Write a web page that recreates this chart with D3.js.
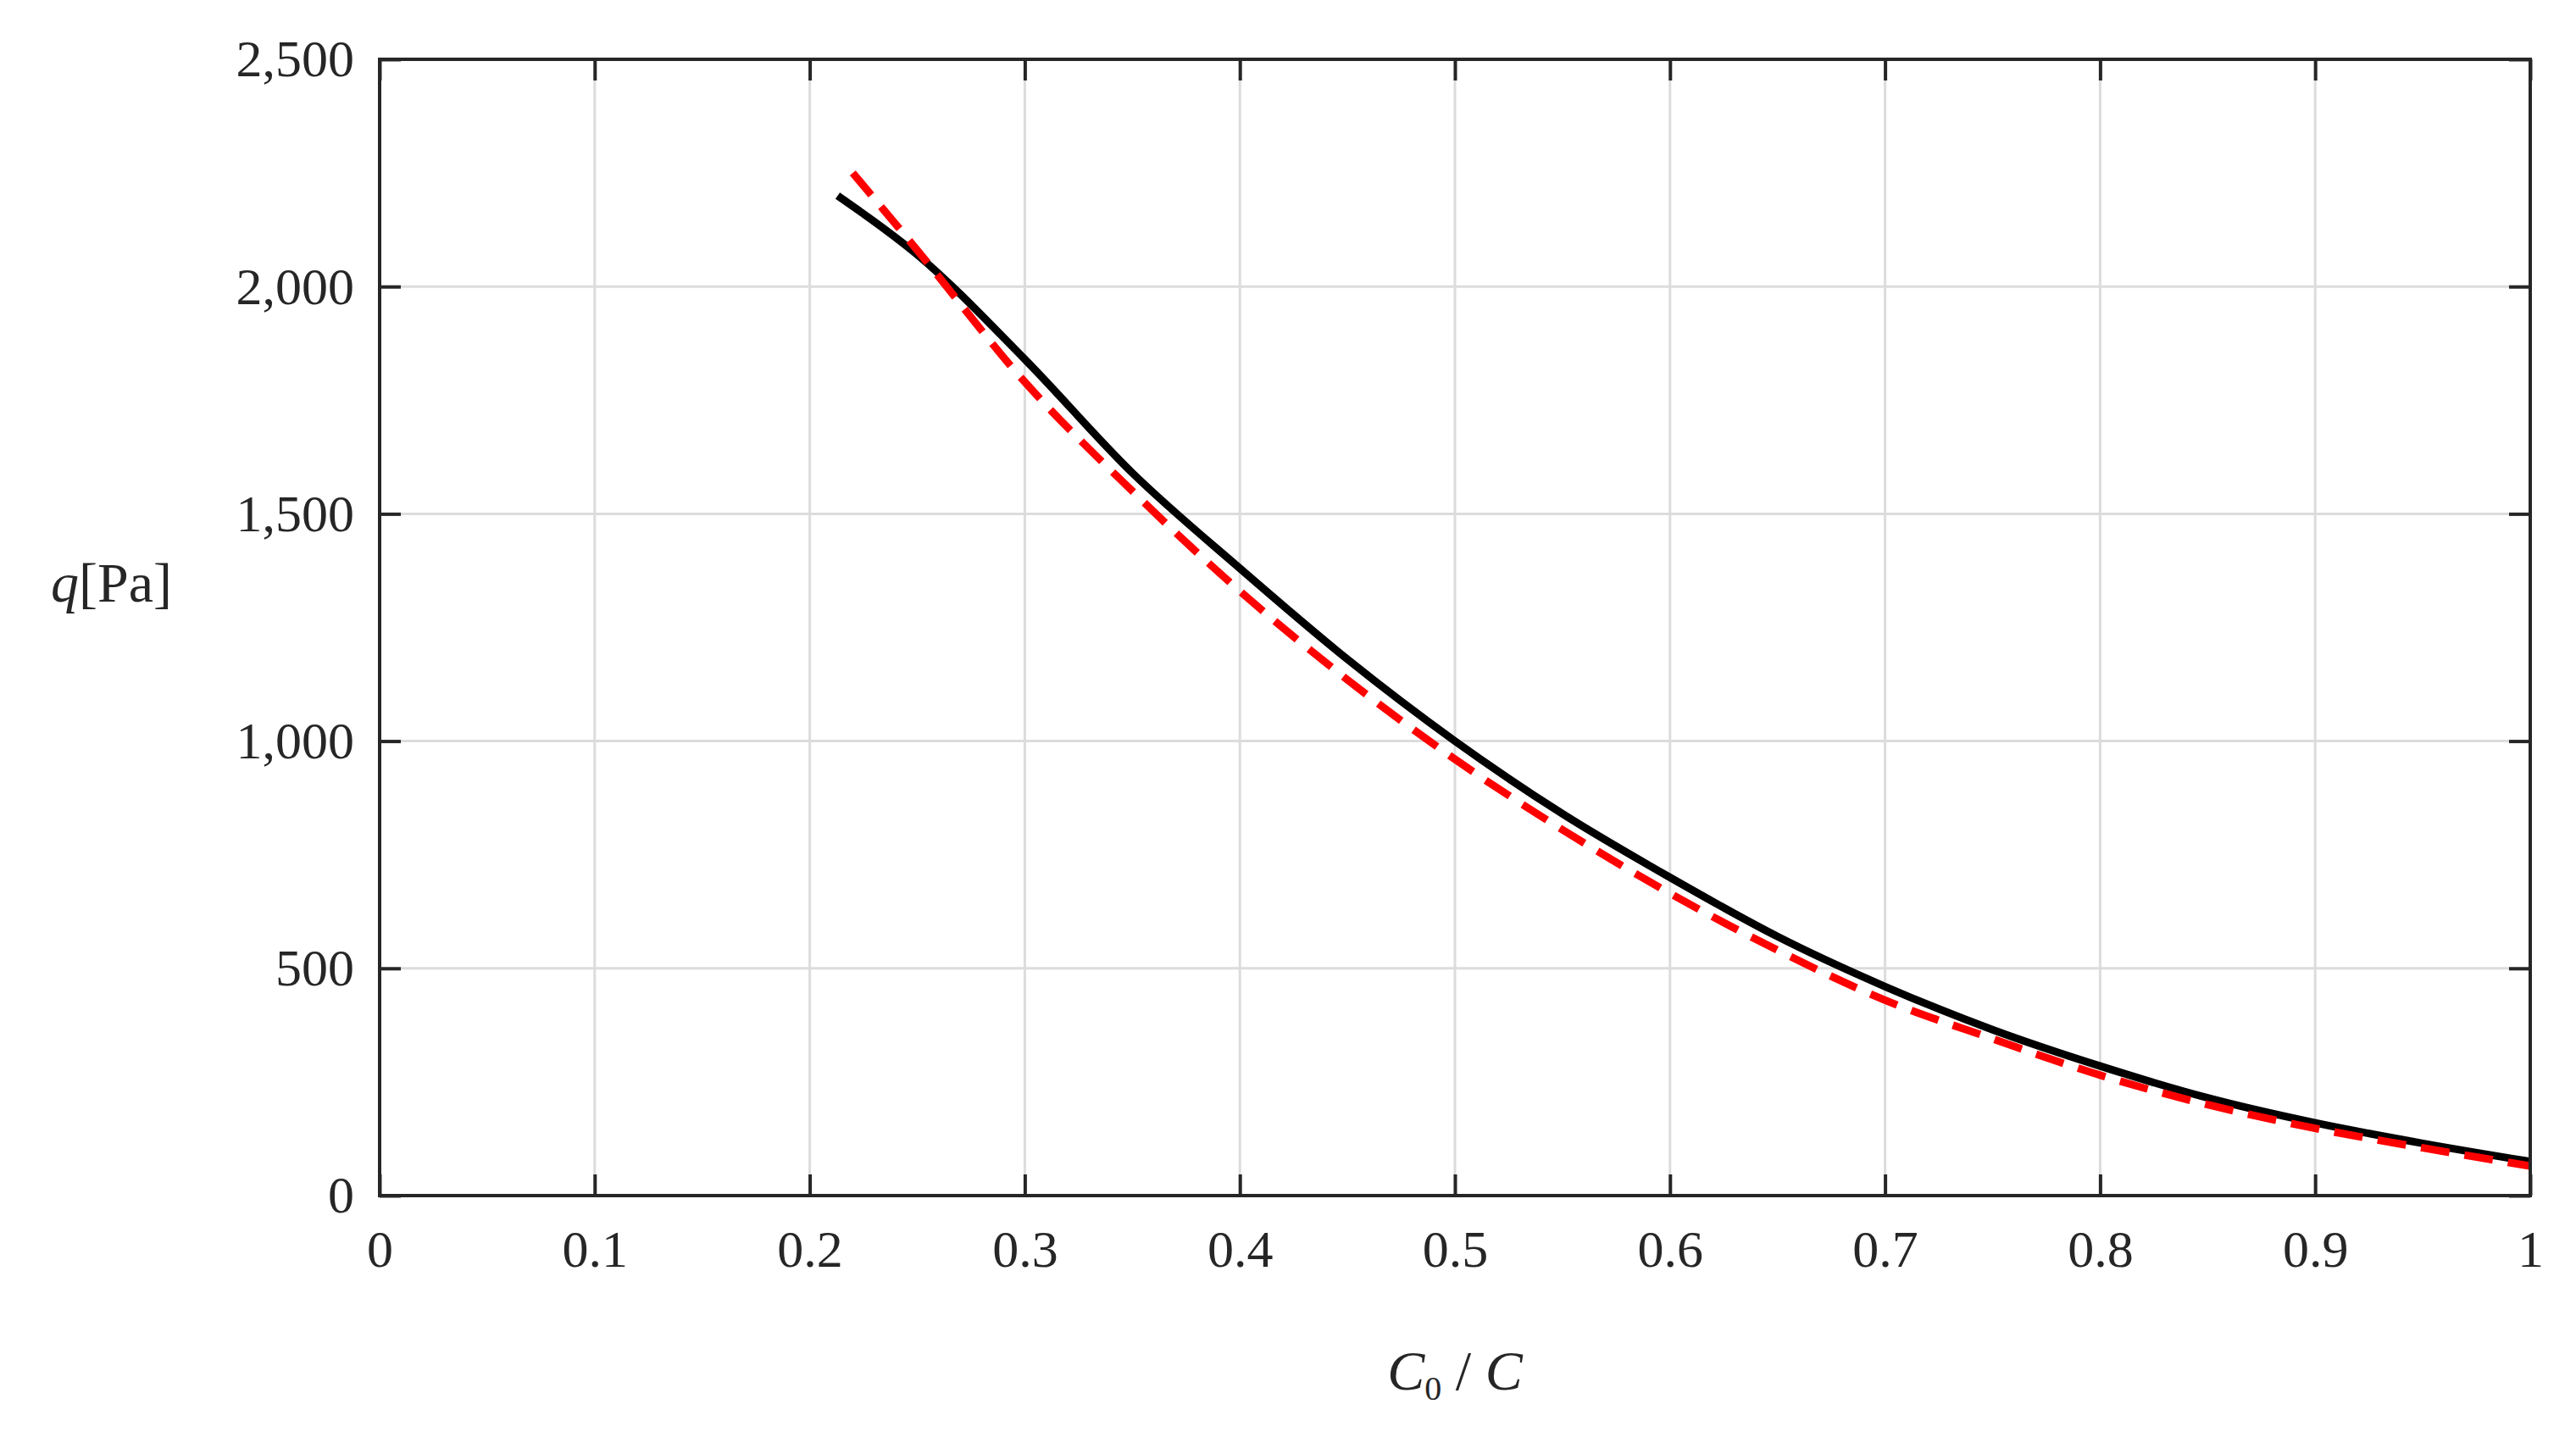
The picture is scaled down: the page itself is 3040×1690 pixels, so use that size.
<!DOCTYPE html>
<html><head><meta charset="utf-8">
<script src="https://cdn.jsdelivr.net/npm/d3@7"></script>
<style>body{margin:0;background:#fff}</style>
</head><body><div id="chart"></div>
<script>
const xTicks = [0, 0.1, 0.2, 0.3, 0.4, 0.5, 0.6, 0.7, 0.8, 0.9, 1]
const yTicks = [0, 500, 1000, 1500, 2000, 2500]
const solidX = [0.213, 0.25, 0.3, 0.35, 0.4, 0.45, 0.5, 0.55, 0.6, 0.65, 0.7, 0.75, 0.8, 0.85, 0.9, 0.95, 1.0]
const solidY = [2200, 2070, 1840, 1590, 1380, 1180, 1000, 840, 700, 570, 460, 365, 285, 215, 160, 115, 75]
const dashX = [0.22, 0.25, 0.3, 0.35, 0.4, 0.45, 0.5, 0.55, 0.6, 0.65, 0.7, 0.75, 0.8, 0.85, 0.9, 0.95, 1.0]
const dashY = [2250, 2080, 1790, 1550, 1330, 1135, 960, 805, 665, 540, 430, 345, 265, 200, 148, 105, 65]

const W = 3040, H = 1690
const m = {left: 448, right: 3040 - 2986, top: 70, bottom: 1690 - 1411}
const font = "'Liberation Serif', 'Times New Roman', serif"

const svg = d3.select("#chart").append("svg").attr("width", W).attr("height", H)
const x = d3.scaleLinear().domain([0, 1]).range([m.left, W - m.right])
const y = d3.scaleLinear().domain([0, 2500]).range([H - m.bottom, m.top])

// grid
svg.append("g").selectAll("line").data(xTicks).join("line")
    .attr("x1", d => x(d)).attr("x2", d => x(d)).attr("y1", y(0)).attr("y2", y(2500))
    .attr("stroke", "#dcdcdc").attr("stroke-width", 3)
svg.append("g").selectAll("line").data(yTicks).join("line")
    .attr("y1", d => y(d)).attr("y2", d => y(d)).attr("x1", x(0)).attr("x2", x(1))
    .attr("stroke", "#dcdcdc").attr("stroke-width", 3)

const styleAxis = g => {
    g.select(".domain").remove()
    g.selectAll(".tick line").attr("stroke", "#262626").attr("stroke-width", 4)
    g.selectAll("text").attr("fill", "#262626").style("font-family", font).style("font-size", "62px")
}
const fmt = d => d3.format("~g")(d)
svg.append("g").attr("transform", `translate(0,${y(0)})`)
    .call(d3.axisBottom(x).tickValues(xTicks).tickFormat(fmt).tickSizeInner(-25).tickPadding(40))
    .call(styleAxis)
svg.append("g").attr("transform", `translate(0,${y(2500)})`)
    .call(d3.axisTop(x).tickValues(xTicks).tickFormat("").tickSizeInner(-25))
    .call(styleAxis)
svg.append("g").attr("transform", `translate(${x(0)},0)`)
    .call(d3.axisLeft(y).tickValues(yTicks).tickSizeInner(-25).tickPadding(30))
    .call(styleAxis)
svg.append("g").attr("transform", `translate(${x(1)},0)`)
    .call(d3.axisRight(y).tickValues(yTicks).tickFormat("").tickSizeInner(-25))
    .call(styleAxis)

const line = d3.line().x(d => x(d[0])).y(d => y(d[1])).curve(d3.curveMonotoneX)
svg.append("path").datum(solidX.map((v, i) => [v, solidY[i]]))
    .attr("d", line).attr("fill", "none").attr("stroke", "#000").attr("stroke-width", 9)
svg.append("path").datum(dashX.map((v, i) => [v, dashY[i]]))
    .attr("d", line).attr("fill", "none").attr("stroke", "#ff0000").attr("stroke-width", 9)
    .attr("stroke-dasharray", "34,18")

svg.append("rect").attr("x", x(0)).attr("y", y(2500)).attr("width", x(1) - x(0)).attr("height", y(0) - y(2500))
    .attr("fill", "none").attr("stroke", "#262626").attr("stroke-width", 4)

// labels
const xl = svg.append("text").attr("x", (x(0) + x(1)) / 2).attr("y", 1640).attr("text-anchor", "middle")
    .style("font-family", font).style("font-size", "66px").attr("fill", "#262626")
xl.append("tspan").style("font-style", "italic").text("C")
xl.append("tspan").attr("dy", 12).style("font-size", "40px").text("0")
xl.append("tspan").attr("dy", -12).text(" / ")
xl.append("tspan").style("font-style", "italic").text("C")

const yl = svg.append("text").attr("x", 60).attr("y", 710)
    .style("font-family", font).style("font-size", "66px").attr("fill", "#262626")
yl.append("tspan").style("font-style", "italic").text("q")
yl.append("tspan").text("[Pa]")
</script>
</body></html>
